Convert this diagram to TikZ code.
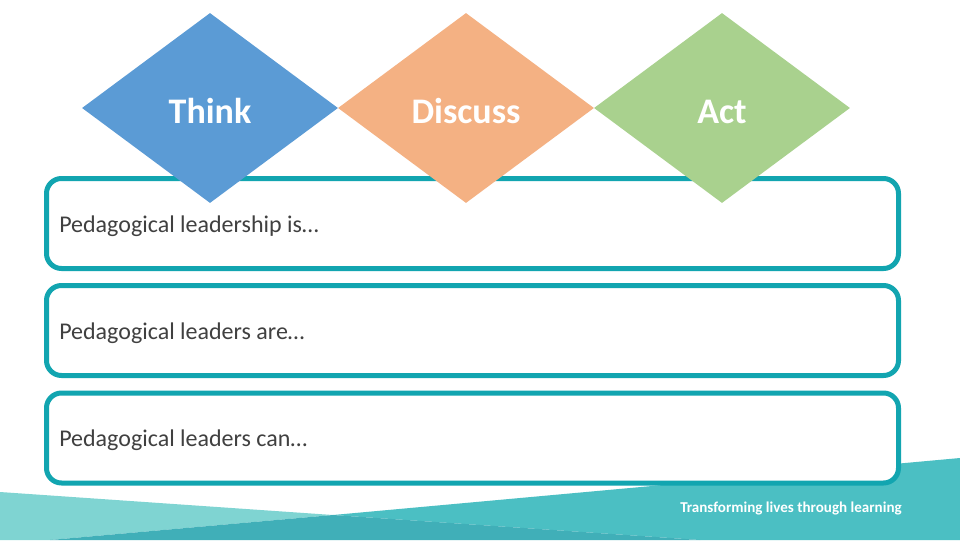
\documentclass[tikz,border=0pt]{standalone}
\usepackage{fontspec}
\setmainfont{Carlito}
\usetikzlibrary{shapes.geometric}
\definecolor{dblue}{HTML}{5B9BD5}
\definecolor{dorange}{HTML}{F4B183}
\definecolor{dgreen}{HTML}{A9D18E}
\definecolor{boxline}{HTML}{12A5B0}
\definecolor{wavelight}{HTML}{7FD4D2}
\definecolor{wavemid}{HTML}{4BBFC3}
\definecolor{wavedark}{HTML}{40AFB8}
\definecolor{txtgray}{HTML}{404040}
\newcommand{\lowerlabel}[1]{\raisebox{-2.5pt}[\height][0pt]{#1}}
\tikzset{
  stepdiamond/.style={diamond, minimum width=192pt, minimum height=142.5pt, inner sep=0pt,
    text=white, font=\fontsize{27}{30}\selectfont\bfseries},
  rowbox/.style={draw=boxline, line width=3.75pt, rounded corners=11.25pt, fill=white,
    minimum width=639pt, minimum height=67.5pt, inner sep=0pt},
  rowtext/.style={anchor=west, text=txtgray, font=\fontsize{18}{21}\selectfont, inner sep=0pt},
  tagline/.style={anchor=east, text=white, font=\fontsize{11.3}{13}\selectfont\bfseries, inner sep=0pt}
}
\begin{document}
\begin{tikzpicture}[x=0.75pt, y=-0.75pt]
\useasboundingbox[fill=white] (0,0) rectangle (960,540);
% bottom waves
\fill[wavemid] (333,515) -- (960,458) -- (960,540) -- (700,540) -- cycle;
\fill[wavelight] (0,492) -- (333,515) -- (50,540) -- (0,540) -- cycle;
\fill[wavedark] (50,540) -- (333,515) -- (480,525) -- (700,540) -- cycle;
\node[tagline] (tag) at (902,508) {Transforming lives through learning};
% boxes
\node[rowbox] (box1) at (472.5,223.5) {};
\node[rowbox] (box2) at (472.5,330.5) {};
\node[rowbox] (box3) at (472.5,438) {};
\node[rowtext] (t1) at (59,226) {Pedagogical leadership is…};
\node[rowtext] (t2) at (59,333) {Pedagogical leaders are…};
\node[rowtext] (t3) at (59,440.5) {Pedagogical leaders can…};
% diamonds
\node[stepdiamond, fill=dblue] (think) at (210,108) {\lowerlabel{Think}};
\node[stepdiamond, fill=dorange] (discuss) at (466,108) {\lowerlabel{Discuss}};
\node[stepdiamond, fill=dgreen] (act) at (722,108) {\lowerlabel{Act}};
\end{tikzpicture}
\end{document}
